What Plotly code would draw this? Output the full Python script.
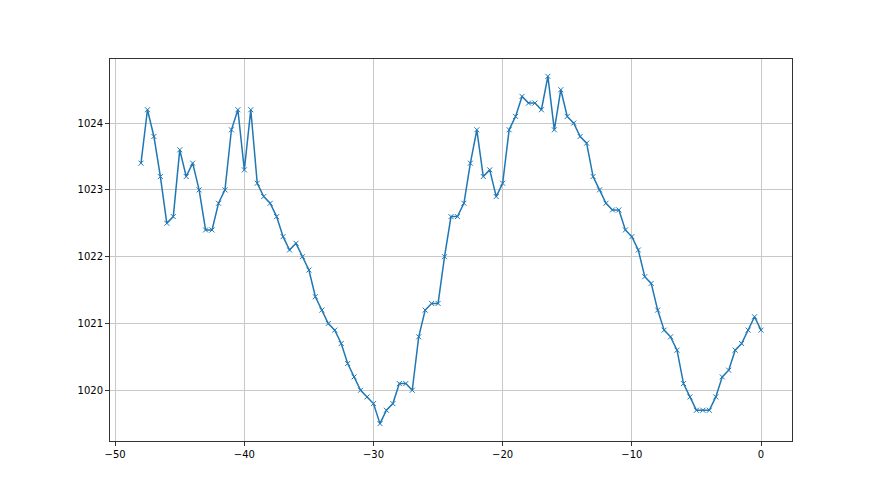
import numpy as np
import plotly.graph_objects as go

# time offsets (x) and pressure readings (y)
x_vals = [-48 + 0.5 * i for i in range(97)]
pressure = [
    1023.4, 1024.2, 1023.8, 1023.2, 1022.5, 1022.6, 1023.6, 1023.2, 1023.4, 1023.0,
    1022.4, 1022.4, 1022.8, 1023.0, 1023.9, 1024.2, 1023.3, 1024.2, 1023.1, 1022.9,
    1022.8, 1022.6, 1022.3, 1022.1, 1022.2, 1022.0, 1021.8, 1021.4, 1021.2, 1021.0,
    1020.9, 1020.7, 1020.4, 1020.2, 1020.0, 1019.9, 1019.8, 1019.5, 1019.7, 1019.8,
    1020.1, 1020.1, 1020.0, 1020.8, 1021.2, 1021.3, 1021.3, 1022.0, 1022.6, 1022.6,
    1022.8, 1023.4, 1023.9, 1023.2, 1023.3, 1022.9, 1023.1, 1023.9, 1024.1, 1024.4,
    1024.3, 1024.3, 1024.2, 1024.7, 1023.9, 1024.5, 1024.1, 1024.0, 1023.8, 1023.7,
    1023.2, 1023.0, 1022.8, 1022.7, 1022.7, 1022.4, 1022.3, 1022.1, 1021.7, 1021.6,
    1021.2, 1020.9, 1020.8, 1020.6, 1020.1, 1019.9, 1019.7, 1019.7, 1019.7, 1019.9,
    1020.2, 1020.3, 1020.6, 1020.7, 1020.9, 1021.1, 1020.9,
]
x_ticks = [-50, -40, -30, -20, -10, 0]
y_ticks = [1020, 1021, 1022, 1023, 1024]

fig = go.Figure(go.Scatter(
    x=x_vals, y=pressure, mode="lines+markers",
    line=dict(color="#1f77b4", width=1.5),
    marker=dict(symbol="x-thin", size=5, line=dict(color="#1f77b4", width=1)),
))

axis_style = dict(
    showline=True, linecolor="#333333", linewidth=1, mirror=True,
    ticks="outside", ticklen=4, tickcolor="#333333",
    showgrid=True, gridcolor="#c8c8c8", gridwidth=1, zeroline=False,
    tickfont=dict(family="DejaVu Sans", size=10, color="black"),
)
fig.update_xaxes(range=[-50.4, 2.4], tickvals=x_ticks, **axis_style)
fig.update_yaxes(range=[1019.24, 1024.96], tickvals=y_ticks, **axis_style)
fig.update_layout(
    width=880, height=495,
    margin=dict(l=102, r=96, t=51, b=62),
    plot_bgcolor="white", paper_bgcolor="white",
    showlegend=False,
)
fig.write_html("out.html")
